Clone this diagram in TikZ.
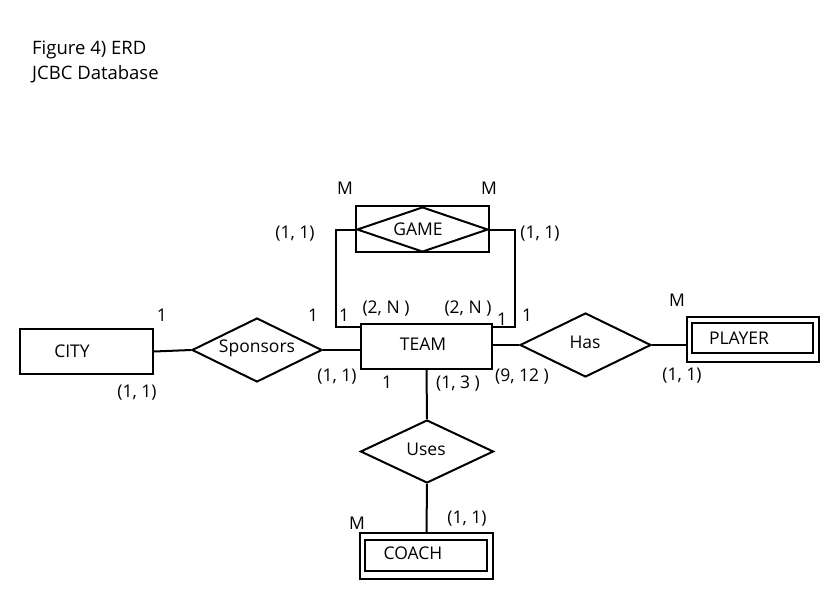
\documentclass[tikz,border=0pt]{standalone}
\usepackage{fontspec}
\setmainfont{Open Sans}
\usetikzlibrary{shapes.geometric}
\begin{document}
\begin{tikzpicture}[x=1pt,y=-1pt,
  every node/.style={font=\fontsize{17.5}{20}\selectfont, inner sep=0pt},
  ent/.style={draw, line width=2pt, rectangle},
  rel/.style={draw, line width=2pt, diamond},
  conn/.style={line width=2pt},
  lbl/.style={font=\fontsize{17.5}{20}\selectfont}]
\useasboundingbox[fill=white] (0,0) rectangle (840,607);
% title
\node[anchor=west, font=\fontsize{18.5}{22}\selectfont] (t1) at (32,50) {Figure 4) ERD};
\node[anchor=west, font=\fontsize{18.5}{22}\selectfont] (t2) at (32,74) {JCBC Database};
% entities
\node[ent, minimum width=133pt, minimum height=45pt] (city) at (86.5,351.5) {};
\node (citytxt) at (72,351) {CITY};
\node[ent, minimum width=131pt, minimum height=45pt] (team) at (426.5,346.5) {};
\node (teamtxt) at (423,344) {TEAM};
\node[ent, minimum width=132pt, minimum height=45pt] (player) at (753,339.5) {};
\node[ent, minimum width=121pt, minimum height=30pt] (playerin) at (752.5,338) {};
\node (playertxt) at (739,338) {PLAYER};
\node[ent, minimum width=133pt, minimum height=46pt] (coach) at (426.5,556) {};
\node[ent, minimum width=122pt, minimum height=31pt] (coachin) at (426,555.5) {};
\node (coachtxt) at (413,553) {COACH};
% relationships
\node[rel, minimum width=130pt, minimum height=64pt] (spons) at (257,350) {};
\node (sponstxt) at (257,348) {Sponsors};
\node[rel, minimum width=131pt, minimum height=64pt] (has) at (585.5,345) {};
\node (hastxt) at (585,342) {Has};
\node[rel, minimum width=133pt, minimum height=63pt] (uses) at (427,451.5) {};
\node (usestxt) at (426,449) {Uses};
\node[ent, minimum width=133pt, minimum height=46pt] (game) at (422.5,229) {};
\node[rel, minimum width=131pt, minimum height=45pt] (gamed) at (422.5,229.5) {};
\node (gametxt) at (418,229) {GAME};
% connectors
\draw[conn] (city.east) -- (spons.west);
\draw[conn] (spons.east) -- (team.west |- spons.east);
\draw[conn] (team.east |- has.west) -- (has.west);
\draw[conn] (has.east) -- (player.west |- has.east);
\draw[conn] (team.south) -- (uses.north);
\draw[conn] (uses.south) -- (coach.north);
\coordinate (gl) at (335.5,229.5);
\coordinate (gr) at (515,229.5);
\draw[conn] (gamed.west) -- (gl) |- ([yshift=-4pt]team.north west);
\draw[conn] (gamed.east) -- (gr) |- ([yshift=-4pt]team.north east);
% labels
\node[lbl] (m1) at (345,188) {M};
\node[lbl] (m2) at (489,188) {M};
\node[lbl] (g11l) at (295,234) {(1, 1)};
\node[lbl] (g11r) at (540,234) {(1, 1)};
\node[lbl] (c1) at (162,315) {1};
\node[lbl] (c11) at (137,393) {(1, 1)};
\node[lbl] (s1) at (313,315) {1};
\node[lbl] (gl1) at (344,315) {1};
\node[lbl] (g2nl) at (386,309) {(2, N )};
\node[lbl] (g2nr) at (468,309) {(2, N )};
\node[lbl] (gr1) at (502,319) {1};
\node[lbl] (h1) at (527,315) {1};
\node[lbl] (t11) at (337,377) {(1, 1)};
\node[lbl] (u1) at (387,382) {1};
\node[lbl] (u13) at (458,384) {(1, 3 )};
\node[lbl] (h912) at (522,377) {(9, 12 )};
\node[lbl] (pm) at (677,300) {M};
\node[lbl] (p11) at (682,376) {(1, 1)};
\node[lbl] (cm) at (357,523) {M};
\node[lbl] (co11) at (467,519) {(1, 1)};
\end{tikzpicture}
\end{document}
